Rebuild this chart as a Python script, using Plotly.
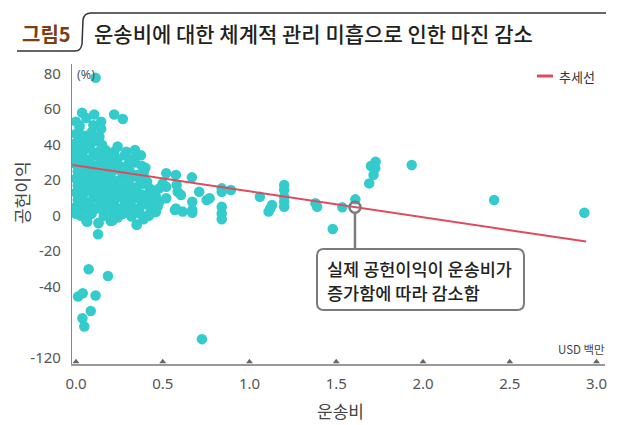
import plotly.graph_objects as go

# ---------------- data ----------------
# main cluster, transport cost (USD million) vs contribution margin (%)
cluster_x = [0.06, 0.13, 0.20, 0.24, 0.35, 0.39,
             0.00, 0.03, 0.09, 0.16, 0.21, 0.27, 0.32, 0.37, 0.42, 0.46,
             0.00, 0.04, 0.08, 0.12, 0.17, 0.22, 0.26, 0.30, 0.34, 0.38, 0.43, 0.47,
             0.01, 0.05, 0.10, 0.14, 0.19, 0.23, 0.28, 0.32, 0.36, 0.40, 0.44,
             0.00, 0.04, 0.08, 0.12, 0.16, 0.21, 0.25, 0.29, 0.34, 0.38, 0.42, 0.46,
             0.01, 0.05, 0.09, 0.13, 0.18, 0.22, 0.26, 0.31, 0.35, 0.39, 0.43,
             0.00, 0.04, 0.08, 0.12, 0.16, 0.20, 0.25, 0.29, 0.33, 0.37, 0.41,
             0.01, 0.05, 0.09, 0.14, 0.18, 0.23, 0.27, 0.31, 0.35, 0.39,
             0.00, 0.04, 0.08, 0.12, 0.17, 0.21, 0.25, 0.30, 0.34, 0.38,
             0.01, 0.05, 0.10, 0.14, 0.19, 0.24, 0.28, 0.33,
             0.00, 0.04, 0.08, 0.13, 0.17, 0.22,
             0.02, 0.06, 0.11, 0.15,
             0.00, 0.05, 0.09, 0.13,
             0.03, 0.07, 0.11, 0.15, 0.19, 0.23, 0.03, 0.07, 0.11, 0.15, 0.19,
             0.02, 0.06, 0.10, 0.07, 0.03]
cluster_y = [-3, -4, -3, -1, -5, -2,
             1, 0, 1, 0, 2, 1, 0, 1, 0, 2,
             5, 4, 6, 4, 5, 6, 4, 5, 4, 6, 4, 5,
             9, 8, 10, 8, 9, 10, 8, 9, 10, 8, 9,
             13, 12, 14, 12, 13, 14, 12, 13, 14, 12, 13, 11,
             17, 16, 18, 16, 17, 18, 16, 17, 16, 18, 15,
             21, 20, 22, 20, 21, 22, 20, 21, 22, 20, 19,
             25, 24, 26, 24, 25, 26, 24, 25, 23, 24,
             29, 28, 30, 28, 29, 30, 28, 29, 30, 28,
             33, 32, 34, 32, 33, 32, 34, 32,
             37, 36, 38, 36, 37, 36,
             41, 40, 42, 40,
             46, 45, 47, 44,
             19, 15, 23, 11, 27, 15, 7, 3, 27, 19, 35,
             51, 55, 51, 43, 39]

edge_x = [0.00, 0.035, 0.105, 0.145, 0.22, 0.27, 0.02, 0.145, 0.00, 0.03, 0.135,
          0.24, 0.29, 0.34, 0.375, 0.40, 0.00, 0.00, 0.113,
          0.00, 0.023, 0.065, 0.13, 0.127, 0.21, 0.35, 0.42, 0.27, 0.32]
edge_y = [53, 58, 57, 53, 57, 54.5, 50, 49, 41, 44.5, 44.5,
          39, 36, 37, 34, 27, 34, 31, 77.7,
          3.2, 0.4, -3.4, -4.3, -10.5, -2.8, -5.2, 0.4, 1.3, -0.5]

mid_x = [0.45, 0.48, 0.52, 0.48, 0.50, 0.52, 0.52, 0.576, 0.668, 0.58, 0.586, 0.605,
         0.71, 0.753, 0.77, 0.84, 0.84, 0.893, 0.67, 0.67, 0.67, 0.576, 0.615,
         0.84, 0.84, 0.84, 0.57]
mid_y = [7.9, 7.9, 9.8, 15.4, 18.2, 23.9, 16.3, 23, 21.6, 17.3, 13.5, 11.7,
         13.5, 8.8, 9.8, 15.4, 13.5, 14.5, 7.9, 3.2, 1.7, 4.1, 2.3,
         5, 1.3, -2, 3.2]

far_x = [1.06, 1.11, 1.12, 1.13, 1.20, 1.20, 1.20, 1.20, 1.20, 1.38, 1.39, 1.48,
         1.535, 1.61, 1.69, 1.715, 1.70, 1.727, 1.725, 1.935, 2.41, 2.93]
far_y = [10.7, 2.3, 4.1, 6, 17.3, 14.5, 10.7, 7.9, 5, 7, 5, -7.5,
         4.7, 9.2, 18.2, 23, 28, 30.4, 26.7, 28.6, 8.8, 1.7]

low_x = [0.073, 0.184, 0.012, 0.039, 0.113, 0.085, 0.037, 0.048, 0.726]
low_y = [-30.2, -34, -45.6, -43.7, -45, -53.7, -57.8, -62.5, -69.6]

trend_x = [-0.02, 2.94]
trend_y = [28.6, -14.6]

callout_x = [1.608]
callout_y = [4.8]

x_tickvals = [0.0, 0.5, 1.0, 1.5, 2.0, 2.5, 3.0]
x_ticktext = ["0.0", "0.5", "1.0", "1.5", "2.0", "2.5", "3.0"]
y_tickvals = [80, 60, 40, 20, 0, -20, -40, -80]
y_ticktext = ["80", "60", "40", "20", "0", "-20", "-40", "-120"]

x_range = [-0.023, 3.049]
y_range = [-83.6, 85.5]

callout_lines = ["실제 공헌이익이 운송비가", "증가함에 따라 감소함"]

# ---------------- layout helpers ----------------
W, H = 640, 425
L, R, T, B = 72, 35, 64, 61
PW, PH = W - L - R, H - T - B


def px(X):
    return (X - L) / PW


def py(Y):
    return (H - B - Y) / PH


TEAL = "#33CBCB"
RED = "#E04A5F"
GRAY = "#7a7a7a"
TXT = "#555555"
FONT = "Noto Sans, Noto Sans CJK KR, sans-serif"
KFONT = "Noto Sans CJK KR, Noto Sans, sans-serif"

all_x = cluster_x + edge_x + mid_x + far_x + low_x
all_y = cluster_y + edge_y + mid_y + far_y + low_y

fig = go.Figure()
fig.add_trace(go.Scatter(x=all_x, y=all_y, mode="markers",
                         marker=dict(color=TEAL, size=10.5, line=dict(width=0)),
                         showlegend=False, hoverinfo="skip"))
fig.add_trace(go.Scatter(x=trend_x, y=trend_y, mode="lines",
                         line=dict(color=RED, width=2), showlegend=False))
fig.add_trace(go.Scatter(x=callout_x, y=callout_y, mode="markers",
                         marker=dict(symbol="circle-open", size=11,
                                     color=GRAY, line=dict(width=2.5, color=GRAY)),
                         showlegend=False))
# tick triangles on x axis
fig.add_trace(go.Scatter(x=x_tickvals, y=[y_range[0] + 1.3] * len(x_tickvals),
                         mode="markers", cliponaxis=False,
                         marker=dict(symbol="triangle-up", size=6, color="#666"),
                         showlegend=False, hoverinfo="skip"))

shapes = []
pxy = 20 / 35.5  # data units per pixel in y
shapes.append(dict(type="line", xref="x", yref="y",
                   x0=callout_x[0], x1=callout_x[0],
                   y0=callout_y[0] - 6 * pxy, y1=-18.8,
                   line=dict(color=GRAY, width=2.5)))
bx0, bx1, by0, by1 = 1.389, 2.582, -53.1, -18.8
rx, ry = 7 / 173.5, 7 * pxy
path = (f"M {bx0+rx},{by1} L {bx1-rx},{by1} Q {bx1},{by1} {bx1},{by1-ry} "
        f"L {bx1},{by0+ry} Q {bx1},{by0} {bx1-rx},{by0} "
        f"L {bx0+rx},{by0} Q {bx0},{by0} {bx0},{by0+ry} "
        f"L {bx0},{by1-ry} Q {bx0},{by1} {bx0+rx},{by1} Z")
shapes.append(dict(type="path", xref="x", yref="y", path=path,
                   line=dict(color=GRAY, width=2), fillcolor="white"))
shapes.append(dict(type="line", xref="paper", yref="paper",
                   x0=px(537), x1=px(553), y0=py(76), y1=py(76),
                   line=dict(color=RED, width=3)))
pts = [(17, 51), (75, 51), (81, 51), (82, 44), (83, 20), (84, 13), (91, 13), (606, 13)]
c = [(px(a), py(b)) for a, b in pts]
tpath = (f"M {c[0][0]},{c[0][1]} L {c[1][0]},{c[1][1]} Q {c[2][0]},{c[2][1]} {c[3][0]},{c[3][1]} "
         f"L {c[4][0]},{c[4][1]} Q {c[5][0]},{c[5][1]} {c[6][0]},{c[6][1]} L {c[7][0]},{c[7][1]}")
shapes.append(dict(type="path", xref="paper", yref="paper", path=tpath,
                   line=dict(color="#333333", width=1.5)))

annotations = [
    dict(text="<b>그림5</b>", xref="paper", yref="paper", x=px(20), y=py(33),
         xanchor="left", yanchor="middle", showarrow=False,
         font=dict(family=KFONT, size=20, color="#7B3F12")),
    dict(text="운송비에 대한 체계적 관리 미흡으로 인한 마진 감소", xref="paper", yref="paper",
         x=px(92), y=py(33), xanchor="left", yanchor="middle", showarrow=False,
         font=dict(family=KFONT, size=21, color="#231F20", weight=500)),
    dict(text="추세선", xref="paper", yref="paper", x=px(557), y=py(76),
         xanchor="left", yanchor="middle", showarrow=False,
         font=dict(family=KFONT, size=13, color="#333")),
    dict(text="(%)", xref="paper", yref="paper", x=px(75), y=py(74),
         xanchor="left", yanchor="middle", showarrow=False,
         font=dict(family=FONT, size=12.5, color=TXT)),
    dict(text="USD 백만", xref="paper", yref="paper", x=px(607), y=py(349),
         xanchor="right", yanchor="middle", showarrow=False,
         font=dict(family=KFONT, size=11.5, color="#444")),
    dict(text="공헌이익", xref="paper", yref="paper", x=px(21), y=py(193),
         xanchor="center", yanchor="middle", textangle=-90, showarrow=False,
         font=dict(family=KFONT, size=17, color="#444")),
    dict(text="운송비", xref="paper", yref="paper", x=px(340), y=py(410),
         xanchor="center", yanchor="middle", showarrow=False,
         font=dict(family=KFONT, size=17, color="#444")),
]
for line_text, ypix in zip(callout_lines, [268, 292]):
    annotations.append(dict(text=line_text, xref="paper", yref="paper",
                            x=px(325), y=py(ypix), xanchor="left", yanchor="middle",
                            showarrow=False,
                            font=dict(family=KFONT, size=17.5, color="#222", weight=500)))

fig.update_layout(
    width=W, height=H, margin=dict(l=L, r=R, t=T, b=B),
    paper_bgcolor="white", plot_bgcolor="white",
    shapes=shapes, annotations=annotations, showlegend=False,
    xaxis=dict(range=x_range, tickvals=x_tickvals, ticktext=x_ticktext,
               showgrid=False, zeroline=False, showline=True,
               linecolor="#999999", linewidth=2,
               ticks="outside", ticklen=5, tickcolor="rgba(0,0,0,0)",
               tickfont=dict(family=FONT, size=15, color=TXT)),
    yaxis=dict(range=y_range, tickvals=y_tickvals, ticktext=y_ticktext,
               showgrid=False, zeroline=False, showline=True,
               linecolor="#888888", linewidth=1.2,
               ticks="outside", ticklen=7, tickcolor="rgba(0,0,0,0)",
               tickfont=dict(family=FONT, size=15, color=TXT)),
)

fig.write_html("out.html")
